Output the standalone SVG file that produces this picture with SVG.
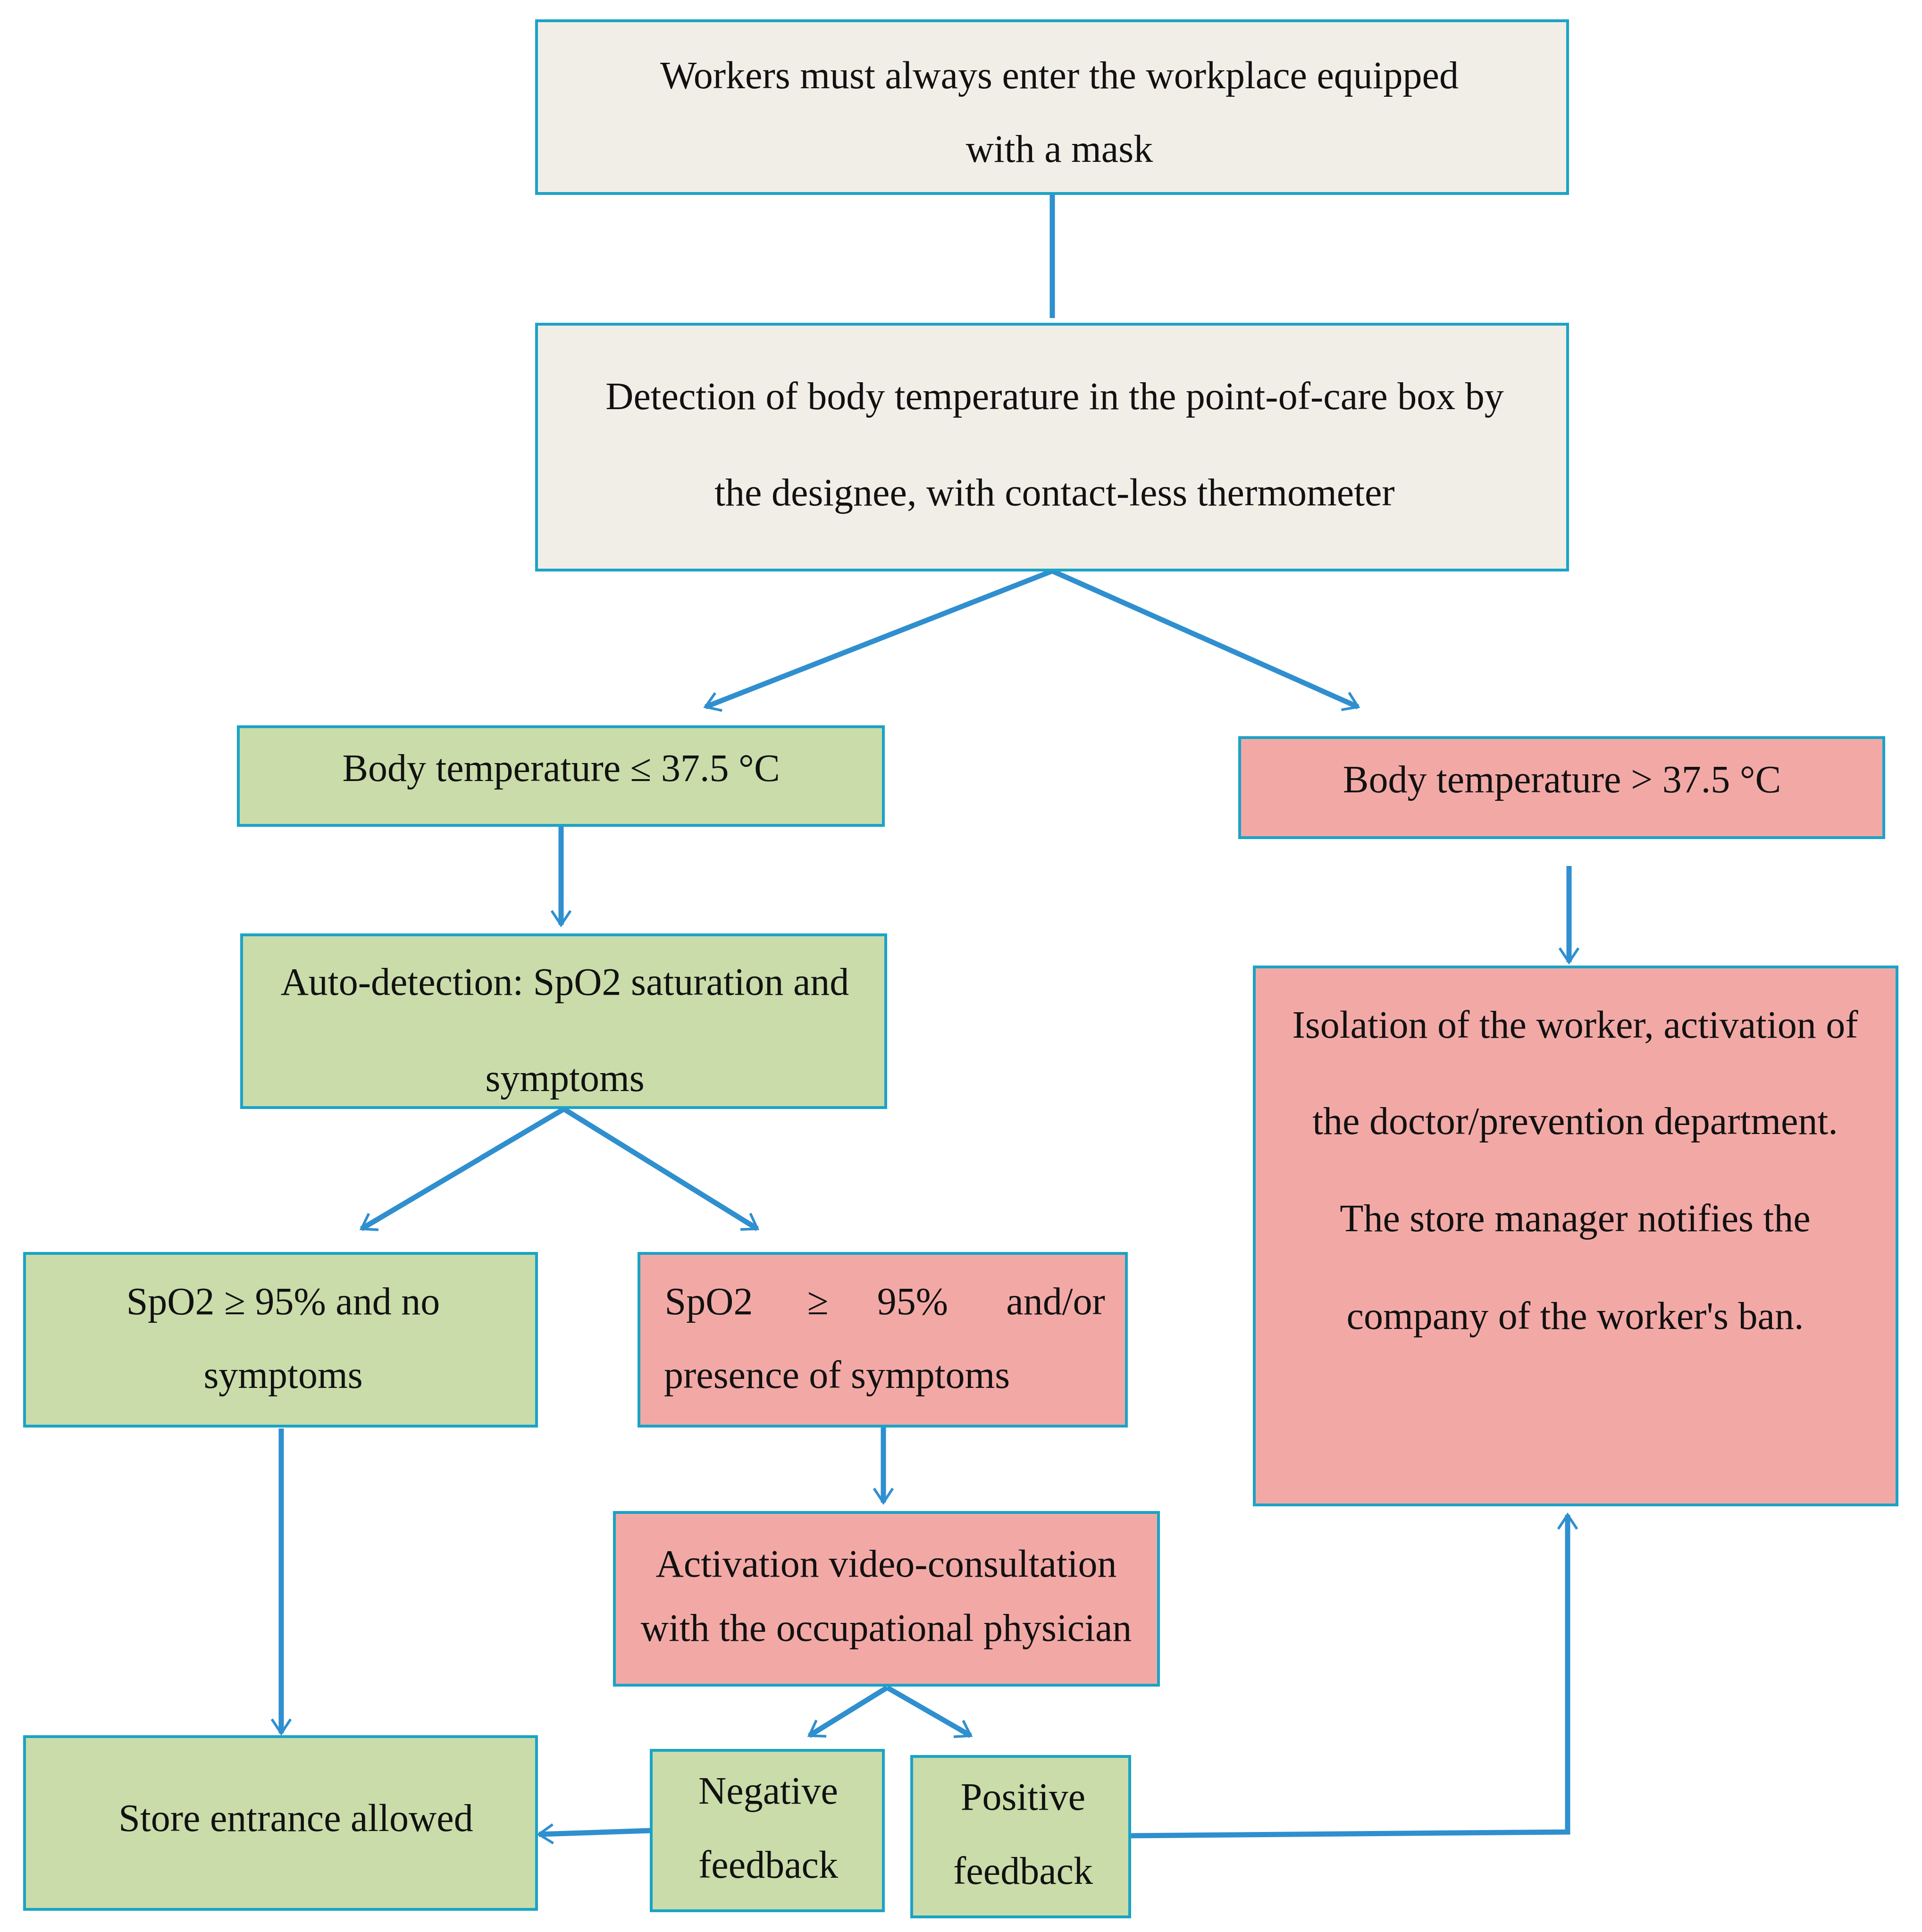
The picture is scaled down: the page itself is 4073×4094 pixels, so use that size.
<svg xmlns="http://www.w3.org/2000/svg" width="4073" height="4094" viewBox="0 0 4073 4094">
<style>
.b{stroke:#1BA3C6;stroke-width:6}
.be{fill:#F0EEE6}.g{fill:#C9DCA9}.p{fill:#F2A9A6}
text{font-family:"Liberation Serif",serif;font-size:82px;fill:#111;text-anchor:middle;dominant-baseline:middle}
.c{fill:none;stroke:#2F8FCF;stroke-width:11}
</style>
<defs><marker id="a" viewBox="0 0 10 10" refX="9" refY="5" markerWidth="5" markerHeight="5" orient="auto" markerUnits="userSpaceOnUse" overflow="visible"><path d="M-60,-40 L0,0 L-60,40" transform="translate(9,5)" fill="none" stroke="#2F8FCF" stroke-width="11"/></marker></defs>
<rect width="4073" height="4094" fill="#fff"/>
<g id="connectors" class="c">
<line x1="2230" y1="410" x2="2230" y2="674"/>
<line x1="2230" y1="1210" x2="1495" y2="1498" marker-end="url(#a)"/>
<line x1="2230" y1="1210" x2="2878" y2="1498" marker-end="url(#a)"/>
<line x1="1189" y1="1752" x2="1189" y2="1960" marker-end="url(#a)"/>
<line x1="3325" y1="1835" x2="3325" y2="2039" marker-end="url(#a)"/>
<line x1="1195" y1="2350" x2="766" y2="2604" marker-end="url(#a)"/>
<line x1="1195" y1="2350" x2="1605" y2="2604" marker-end="url(#a)"/>
<line x1="596" y1="3027" x2="596" y2="3673" marker-end="url(#a)"/>
<line x1="1872" y1="2980" x2="1872" y2="3184" marker-end="url(#a)"/>
<line x1="1880" y1="3576" x2="1715" y2="3678" marker-end="url(#a)"/>
<line x1="1880" y1="3576" x2="2057" y2="3678" marker-end="url(#a)"/>
<line x1="1380" y1="3879" x2="1142" y2="3887" marker-end="url(#a)"/>
<polyline points="2394,3890 3322,3882 3322,3210" marker-end="url(#a)"/>
</g>
<g id="n1"><rect class="b be" x="1137" y="44" width="2185" height="366"/><text x="2245" y="168">Workers must always enter the workplace equipped</text><text x="2245" y="324">with a mask</text></g>
<g id="n2"><rect class="b be" x="1137" y="687" width="2185" height="521"/><text x="2235" y="848">Detection of body temperature in the point-of-care box by</text><text x="2235" y="1052">the designee, with contact-less thermometer</text></g>
<g id="n3"><rect class="b g" x="505" y="1540" width="1367" height="209"/><text x="1189" y="1636">Body temperature ≤ 37.5 °C</text></g>
<g id="n4"><rect class="b p" x="2627" y="1563" width="1365" height="212"/><text x="3310" y="1660">Body temperature &gt; 37.5 °C</text></g>
<g id="n5"><rect class="b g" x="512" y="1981" width="1365" height="366"/><text x="1197" y="2089">Auto-detection: SpO2 saturation and</text><text x="1197" y="2293">symptoms</text></g>
<g id="n6"><rect class="b p" x="2658" y="2049" width="1362" height="1140"/><text x="3338" y="2180">Isolation of the worker, activation of</text><text x="3338" y="2384">the doctor/prevention department.</text><text x="3338" y="2590">The store manager notifies the</text><text x="3338" y="2797">company of the worker's ban.</text></g>
<g id="n7"><rect class="b g" x="52" y="2656" width="1085" height="366"/><text x="600" y="2766">SpO2 ≥ 95% and no</text><text x="600" y="2922">symptoms</text></g>
<g id="n8"><rect class="b p" x="1354" y="2656" width="1033" height="366"/><text x="1502" y="2766">SpO2</text><text x="1733" y="2766">≥</text><text x="1934" y="2766">95%</text><text x="2237" y="2766">and/or</text><text x="1407" y="2922" style="text-anchor:start">presence of symptoms</text></g>
<g id="n9"><rect class="b p" x="1302" y="3205" width="1153" height="366"/><text x="1878" y="3322">Activation video-consultation</text><text x="1878" y="3458">with the occupational physician</text></g>
<g id="n10"><rect class="b g" x="52" y="3680" width="1085" height="366"/><text x="627" y="3861">Store entrance allowed</text></g>
<g id="n11"><rect class="b g" x="1380" y="3709" width="492" height="340"/><text x="1628" y="3803">Negative</text><text x="1628" y="3960">feedback</text></g>
<g id="n12"><rect class="b g" x="1932" y="3722" width="462" height="340"/><text x="2168" y="3816">Positive</text><text x="2168" y="3973">feedback</text></g>
</svg>
